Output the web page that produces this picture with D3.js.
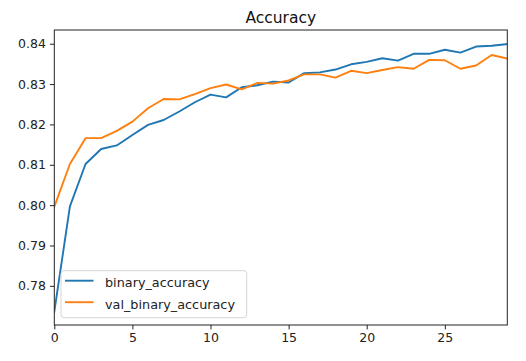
<!DOCTYPE html>
<html>
<head>
<meta charset="utf-8">
<script src="https://cdn.jsdelivr.net/npm/d3@7"></script>
<style>
  html, body { margin: 0; padding: 0; background: #fff; }
  svg { display: block; font-family: "DejaVu Sans", sans-serif; }
</style>
</head>
<body>
<svg id="chart" width="526" height="361"></svg>
<script>
const epochs = d3.range(30);
const binaryAccuracy = [
  0.7736, 0.7997, 0.8102, 0.8139, 0.8148, 0.8174, 0.8199, 0.8211, 0.8232, 0.8255,
  0.8274, 0.8267, 0.8292, 0.8297, 0.8306, 0.8304, 0.8327, 0.8329, 0.8336, 0.8349,
  0.8355, 0.8364, 0.8358, 0.8375, 0.8375, 0.8385, 0.8378, 0.8393, 0.8395, 0.8399
];
const valBinaryAccuracy = [
  0.7996, 0.8102, 0.8166, 0.8166, 0.8184, 0.8207, 0.8240, 0.8263, 0.8262, 0.8275,
  0.8290, 0.8299, 0.8287, 0.8303, 0.8301, 0.8309, 0.8324, 0.8324, 0.8316, 0.8333,
  0.8327, 0.8335, 0.8342, 0.8338, 0.8360, 0.8359, 0.8338, 0.8346, 0.8372, 0.8363
];
const xTicks = [0, 5, 10, 15, 20, 25];
const yTicks = [0.78, 0.79, 0.80, 0.81, 0.82, 0.83, 0.84];
const seriesNames = ["binary_accuracy", "val_binary_accuracy"];
const seriesColors = ["#1f77b4", "#ff7f0e"];
const title = "Accuracy";

const svg = d3.select("#chart");
const pLeft = 54.3, pRight = 507.3, pTop = 30, pBottom = 325;

const x = d3.scaleLinear().domain([0, 29]).range([pLeft, pRight]);
const y = d3.scaleLinear().domain([0.7703, 0.8434]).range([pBottom, pTop]);

// lines
const line = d3.line().x((d, i) => x(epochs[i])).y(d => y(d));
const series = [binaryAccuracy, valBinaryAccuracy];
svg.append("clipPath").attr("id", "clip").append("rect")
  .attr("x", pLeft).attr("y", pTop).attr("width", pRight - pLeft).attr("height", pBottom - pTop);
series.forEach((s, k) => {
  svg.append("path").datum(s)
    .attr("d", line)
    .attr("fill", "none")
    .attr("stroke", seriesColors[k])
    .attr("stroke-width", 1.9)
    .attr("stroke-linejoin", "round")
    .attr("stroke-linecap", "square")
    .attr("clip-path", "url(#clip)");
});

// axes
const xAxis = d3.axisBottom(x).tickValues(xTicks).tickFormat(d3.format("d")).tickSize(4.4).tickPadding(4);
const yAxis = d3.axisLeft(y).tickValues(yTicks).tickFormat(d3.format(".2f")).tickSize(4.4).tickPadding(4);

const gx = svg.append("g").attr("transform", `translate(0,${pBottom})`).call(xAxis);
const gy = svg.append("g").attr("transform", `translate(${pLeft},0)`).call(yAxis);
[gx, gy].forEach(g => {
  g.select(".domain").remove();
  g.selectAll(".tick line").attr("stroke", "#222").attr("stroke-width", 1);
  g.selectAll(".tick text").attr("fill", "#222").attr("font-size", 12.5)
    .attr("font-family", "DejaVu Sans, sans-serif");
});

// frame
svg.append("rect")
  .attr("x", pLeft).attr("y", pTop).attr("width", pRight - pLeft).attr("height", pBottom - pTop)
  .attr("fill", "none").attr("stroke", "#222").attr("stroke-width", 1);

// title
svg.append("text")
  .attr("x", (pLeft + pRight) / 2).attr("y", 23)
  .attr("text-anchor", "middle")
  .attr("font-size", 15.5)
  .attr("fill", "#111")
  .text(title);

// legend
const lg = svg.append("g");
lg.append("rect")
  .attr("x", 61).attr("y", 270.7).attr("width", 185.7).attr("height", 47)
  .attr("rx", 3).attr("ry", 3)
  .attr("fill", "#fff").attr("fill-opacity", 0.8)
  .attr("stroke", "#d5d5d5").attr("stroke-width", 1);
const legY = [280.7, 302.2];
seriesNames.forEach((name, k) => {
  lg.append("line")
    .attr("x1", 65).attr("x2", 93.5)
    .attr("y1", legY[k]).attr("y2", legY[k])
    .attr("stroke", seriesColors[k]).attr("stroke-width", 1.9);
  lg.append("text")
    .attr("x", 105).attr("y", legY[k] + 6.5)
    .attr("font-size", 12.8)
    .attr("fill", "#222")
    .text(name);
});
</script>
</body>
</html>
